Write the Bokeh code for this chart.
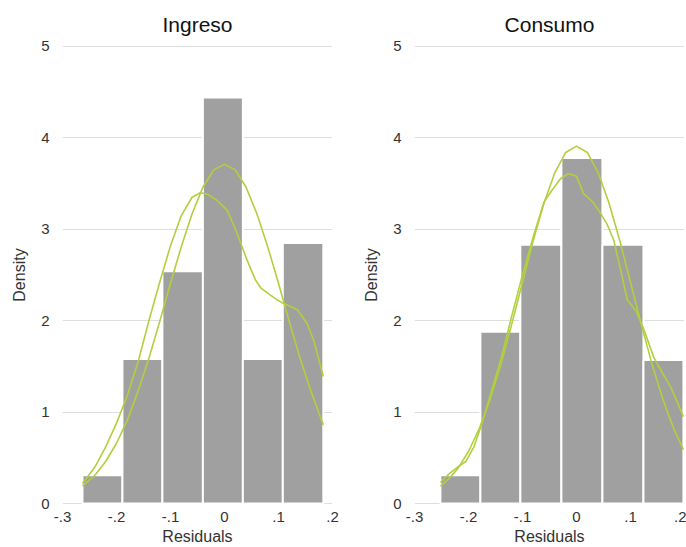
from bokeh.plotting import figure
from bokeh.layouts import row
from bokeh.models import Range1d, FixedTicker
from bokeh.embed import file_html
from bokeh.resources import INLINE

# Histogram bins (density).
ingreso_edges = [-0.263, -0.189, -0.115, -0.040, 0.034, 0.108, 0.183]
ingreso_density = [0.31, 1.58, 2.54, 4.44, 1.58, 2.85]
consumo_edges = [-0.252, -0.178, -0.104, -0.028, 0.048, 0.124, 0.198]
consumo_density = [0.31, 1.88, 2.83, 3.78, 2.83, 1.57]

# Kernel density curves.
ingreso_kde_x = [-0.263, -0.24, -0.22, -0.20, -0.18, -0.16, -0.14, -0.12, -0.10,
                 -0.08, -0.06, -0.045, -0.03, -0.015, 0.005, 0.023, 0.042, 0.057,
                 0.067, 0.085, 0.097, 0.109, 0.135, 0.153, 0.165, 0.183]
ingreso_kde_y = [0.22, 0.40, 0.62, 0.88, 1.18, 1.55, 2.00, 2.42, 2.82,
                 3.15, 3.35, 3.40, 3.38, 3.32, 3.21, 2.96, 2.66, 2.45,
                 2.36, 2.28, 2.23, 2.19, 2.12, 1.97, 1.79, 1.39]
consumo_kde_x = [-0.252, -0.235, -0.22, -0.205, -0.19, -0.175, -0.16, -0.14, -0.12,
                 -0.10, -0.08, -0.06, -0.045, -0.03, -0.015, 0.0, 0.013, 0.03,
                 0.044, 0.057, 0.069, 0.08, 0.094, 0.111, 0.125, 0.143, 0.16,
                 0.174, 0.186, 0.198]
consumo_kde_y = [0.23, 0.33, 0.40, 0.46, 0.62, 0.88, 1.18, 1.58, 2.05,
                 2.50, 2.92, 3.30, 3.43, 3.55, 3.61, 3.58, 3.39, 3.30,
                 3.18, 3.05, 2.88, 2.60, 2.23, 2.10, 1.90, 1.60, 1.42,
                 1.28, 1.12, 0.95]

# Normal density curves.
ingreso_norm_x = [-0.263, -0.24, -0.22, -0.20, -0.18, -0.16, -0.14, -0.12, -0.10,
                  -0.08, -0.06, -0.04, -0.02, 0.0, 0.02, 0.04, 0.06, 0.08, 0.10,
                  0.12, 0.14, 0.16, 0.183]
ingreso_norm_y = [0.19, 0.31, 0.46, 0.66, 0.91, 1.23, 1.59, 1.99, 2.41,
                  2.81, 3.17, 3.46, 3.65, 3.71, 3.65, 3.46, 3.17, 2.81, 2.41,
                  1.99, 1.59, 1.23, 0.86]
consumo_norm_x = [-0.252, -0.24, -0.22, -0.20, -0.18, -0.16, -0.14, -0.12, -0.10,
                  -0.08, -0.06, -0.04, -0.02, 0.0, 0.02, 0.04, 0.06, 0.08, 0.10,
                  0.12, 0.14, 0.16, 0.18, 0.198]
consumo_norm_y = [0.19, 0.25, 0.38, 0.57, 0.82, 1.14, 1.52, 1.96, 2.42,
                  2.88, 3.29, 3.62, 3.84, 3.91, 3.84, 3.62, 3.29, 2.88, 2.42,
                  1.96, 1.52, 1.14, 0.82, 0.59]

x_ticks = [-0.3, -0.2, -0.1, 0.0, 0.1, 0.2]
x_tick_labels = ["-.3", "-.2", "-.1", "0", ".1", ".2"]
y_ticks = [0, 1, 2, 3, 4, 5]

FONT = "Liberation Sans"
BAR = "#a0a0a0"
CURVE = "#b2cf3e"


def panel(title, edges, density, kde_x, kde_y, norm_x, norm_y, width, border_left, border_right):
    p = figure(
        width=width, height=547, title=title,
        x_range=Range1d(-0.3, 0.2), y_range=Range1d(-0.01, 5.01),
        output_backend="svg", toolbar_location=None, tools="",
        min_border_left=border_left, min_border_right=border_right,
        min_border_top=45, min_border_bottom=42,
        x_axis_label="Residuals", y_axis_label="Density",
    )
    p.outline_line_color = None
    p.title.text_font = FONT
    p.title.text_font_size = "21px"
    p.title.text_font_style = "normal"
    p.title.text_color = "#111111"
    p.title.align = "center"
    p.title.standoff = 20

    for ax in (p.xaxis[0], p.yaxis[0]):
        ax.axis_line_color = None
        ax.major_tick_line_color = None
        ax.minor_tick_line_color = None
        ax.major_tick_out = 0
        ax.major_tick_in = 0
        ax.minor_tick_out = 0
        ax.minor_tick_in = 0
        ax.major_label_text_font = FONT
        ax.major_label_text_font_size = "15px"
        ax.major_label_text_color = "#333333"
        ax.axis_label_text_font = FONT
        ax.axis_label_text_font_size = "16px"
        ax.axis_label_text_font_style = "normal"
        ax.axis_label_text_color = "#333333"
    p.xaxis.ticker = FixedTicker(ticks=x_ticks)
    p.xaxis.major_label_overrides = dict(zip(x_ticks, x_tick_labels))
    p.xaxis.major_label_standoff = 7
    p.xaxis.axis_label_standoff = 3
    p.yaxis.ticker = FixedTicker(ticks=y_ticks)
    p.yaxis.major_label_standoff = 13
    p.yaxis.axis_label_standoff = 10

    p.xgrid.grid_line_color = None
    p.ygrid.grid_line_color = "#dedede"
    p.ygrid.grid_line_width = 1

    p.quad(left=edges[:-1], right=edges[1:], bottom=0, top=density,
           fill_color=BAR, line_color="white", line_width=2)
    p.line(kde_x, kde_y, line_color=CURVE, line_width=1.6)
    p.line(norm_x, norm_y, line_color=CURVE, line_width=1.6)
    return p


p1 = panel("Ingreso", ingreso_edges, ingreso_density, ingreso_kde_x, ingreso_kde_y,
           ingreso_norm_x, ingreso_norm_y, 350, 62, 18)
p2 = panel("Consumo", consumo_edges, consumo_density, consumo_kde_x, consumo_kde_y,
           consumo_norm_x, consumo_norm_y, 336, 64, 2)

p = row(p1, p2)
open("out.html", "w").write(file_html(p, INLINE))
